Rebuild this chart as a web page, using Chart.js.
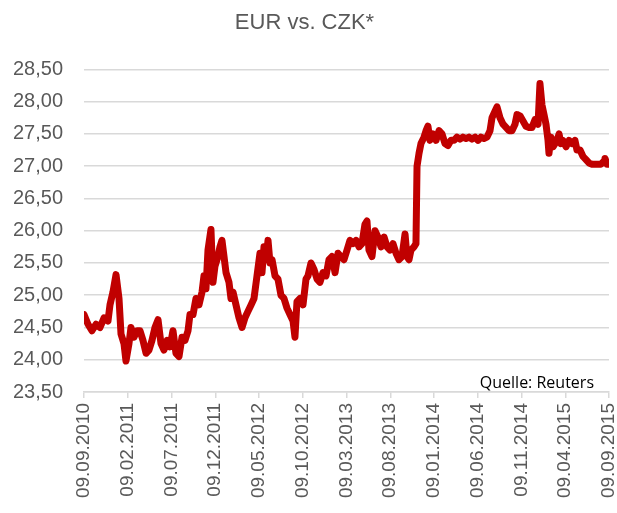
<!DOCTYPE html>
<html>
<head>
<meta charset="utf-8">
<script src="https://cdn.jsdelivr.net/npm/chart.js@4"></script>
<style>
  html, body { margin: 0; padding: 0; background: #fff; }
  #wrap { width: 617px; height: 513px; }
</style>
</head>
<body>
<div id="wrap"><canvas id="fxChart"></canvas></div>
<script>
// months since 09.09.2010
const months = [0, 0.46, 0.91, 1.37, 1.83, 2.29, 2.74, 2.97, 3.31, 3.66, 4.0, 4.23, 4.57, 4.8, 5.14, 5.37, 5.71, 6.06, 6.4, 6.74,
  7.09, 7.43, 7.77, 8.11, 8.46, 8.8, 9.14, 9.49, 9.83, 10.17, 10.51, 10.86, 11.2, 11.54, 11.89, 12.11, 12.46, 12.8, 13.14, 13.49,
  13.71, 13.94, 14.17, 14.51, 14.74, 14.97, 15.31, 15.54, 15.77, 16.0, 16.23, 16.57, 16.8, 17.03, 17.37, 17.71, 18.06, 18.4, 18.74, 19.09,
  19.43, 19.77, 20.11, 20.34, 20.57, 20.8, 21.03, 21.26, 21.49, 21.83, 22.17, 22.51, 22.86, 23.2, 23.54, 23.89, 24.11, 24.34, 24.69, 25.03,
  25.37, 25.6, 25.94, 26.29, 26.63, 26.97, 27.31, 27.66, 28.0, 28.34, 28.69, 29.03, 29.37, 29.71, 30.06, 30.4, 30.74, 31.09, 31.43, 31.77,
  32.11, 32.34, 32.57, 32.91, 33.26, 33.6, 33.94, 34.29, 34.63, 34.97, 35.31, 35.66, 36.0, 36.34, 36.69, 36.91, 37.14, 37.37, 37.71, 37.94,
  38.06, 38.29, 38.51, 38.86, 39.09, 39.31, 39.54, 39.89, 40.23, 40.57, 40.91, 41.26, 41.6, 41.94, 42.29, 42.63, 42.97, 43.31, 43.66, 44.0,
  44.34, 44.69, 45.03, 45.37, 45.71, 46.06, 46.4, 46.63, 46.97, 47.2, 47.54, 47.89, 48.23, 48.57, 48.91, 49.26, 49.49, 49.83, 50.17, 50.51,
  50.86, 51.2, 51.54, 51.89, 52.11, 52.34, 52.57, 52.8, 53.03, 53.14, 53.37, 53.6, 53.83, 54.06, 54.29, 54.51, 54.74, 55.09, 55.43, 55.77,
  56.11, 56.34, 56.69, 57.03, 57.37, 57.71, 58.06, 58.4, 58.74, 59.09, 59.43, 59.54, 59.77, 60.0];

const eurCzk = [24.70, 24.55, 24.45, 24.55, 24.50, 24.65, 24.60, 24.85, 25.05, 25.32, 24.95, 24.40, 24.25, 23.98, 24.25, 24.50, 24.35, 24.45, 24.45, 24.30,
  24.10, 24.15, 24.30, 24.50, 24.62, 24.25, 24.15, 24.30, 24.20, 24.45, 24.10, 24.05, 24.35, 24.30, 24.45, 24.70, 24.70, 24.95, 24.85, 25.05,
  25.30, 25.10, 25.70, 26.02, 25.20, 25.45, 25.60, 25.75, 25.85, 25.60, 25.35, 25.20, 24.95, 25.05, 24.85, 24.65, 24.50, 24.65, 24.75, 24.85,
  24.95, 25.30, 25.65, 25.35, 25.75, 25.55, 25.85, 25.50, 25.55, 25.30, 25.25, 25.00, 24.95, 24.80, 24.70, 24.60, 24.35, 24.90, 24.95, 24.85,
  25.25, 25.30, 25.50, 25.40, 25.25, 25.20, 25.35, 25.30, 25.55, 25.60, 25.35, 25.65, 25.60, 25.55, 25.70, 25.85, 25.80, 25.85, 25.75, 25.80,
  26.10, 26.15, 25.70, 25.60, 26.00, 25.90, 25.75, 25.90, 25.75, 25.70, 25.80, 25.65, 25.55, 25.60, 25.95, 25.60, 25.55, 25.70, 25.75, 25.80,
  27.00, 27.20, 27.35, 27.45, 27.55, 27.62, 27.40, 27.50, 27.40, 27.55, 27.50, 27.35, 27.32, 27.40, 27.40, 27.45, 27.42, 27.45, 27.43, 27.45,
  27.42, 27.45, 27.40, 27.45, 27.43, 27.45, 27.55, 27.75, 27.85, 27.92, 27.75, 27.65, 27.60, 27.55, 27.55, 27.65, 27.80, 27.78, 27.70, 27.62,
  27.60, 27.60, 27.72, 27.65, 28.28, 27.95, 27.80, 27.65, 27.40, 27.20, 27.45, 27.30, 27.35, 27.40, 27.50, 27.35, 27.40, 27.30, 27.40, 27.35,
  27.40, 27.25, 27.25, 27.15, 27.10, 27.05, 27.03, 27.03, 27.03, 27.03, 27.08, 27.12, 27.03, 27.03];

const yMin = 23.5;
const yMax = 28.5;
const yStep = 0.5;
const tickStepMonths = 5;
const sourceNote = 'Quelle: Reuters';

const points = months.map((m, i) => ({ x: m, y: eurCzk[i] }));

function monthLabel(m) {
  const total = 2010 * 12 + 8 + Math.round(m); // Sept 2010 = month index 8
  const yr = Math.floor(total / 12);
  const mo = total % 12 + 1;
  return '09.' + String(mo).padStart(2, '0') + '.' + yr;
}

const notePlugin = {
  id: 'note',
  afterDraw(chart) {
    const { ctx, chartArea } = chart;
    ctx.save();
    ctx.font = '16px "Open Sans", sans-serif';
    ctx.fillStyle = '#000';
    ctx.textAlign = 'right';
    ctx.textBaseline = 'bottom';
    ctx.fillText(sourceNote, chartArea.right - 15, chartArea.bottom - 1);
    ctx.restore();
  }
};

new Chart(document.getElementById('fxChart'), {
  type: 'line',
  data: {
    datasets: [{
      data: points,
      borderColor: '#c00000',
      borderWidth: 7,
      pointRadius: 0,
      tension: 0,
      borderJoinStyle: 'round',
      borderCapStyle: 'round'
    }]
  },
  plugins: [notePlugin],
  options: {
    responsive: true,
    maintainAspectRatio: false,
    animation: false,
    layout: { padding: { left: 0, right: 8, top: 0, bottom: 0 } },
    plugins: {
      legend: { display: false },
      tooltip: { enabled: false },
      title: {
        display: true,
        text: 'EUR vs. CZK*',
        color: '#595959',
        font: { family: '"Liberation Sans", Arial, sans-serif', size: 22, weight: 'normal' },
        padding: { top: 10, bottom: 33 }
      }
    },
    scales: {
      x: {
        type: 'linear',
        min: 0,
        max: 60,
        afterFit: s => { s.height = 121; s.paddingRight = 0; s.paddingLeft = 0; },
        ticks: {
          stepSize: tickStepMonths,
          maxRotation: 90,
          minRotation: 90,
          autoSkip: false,
          color: '#595959',
          padding: 5,
          font: { family: '"Liberation Sans", Arial, sans-serif', size: 19 },
          callback: v => monthLabel(v)
        },
        grid: { drawOnChartArea: false, color: '#d9d9d9', lineWidth: 1.5, tickLength: 6 },
        border: { display: true, color: '#d9d9d9', width: 1.5 }
      },
      y: {
        min: yMin,
        max: yMax,
        afterFit: s => { s.width = 84; },
        ticks: {
          stepSize: yStep,
          color: '#595959',
          padding: 21,
          font: { family: '"Liberation Sans", Arial, sans-serif', size: 20 },
          callback: v => v.toFixed(2).replace('.', ',')
        },
        grid: { color: '#d9d9d9', lineWidth: 1.5, drawTicks: false },
        border: { display: false }
      }
    }
  }
});
</script>
</body>
</html>
